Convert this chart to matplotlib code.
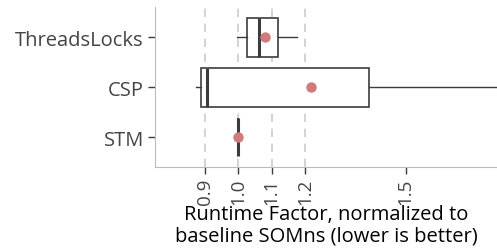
import matplotlib
matplotlib.use("Agg")
from matplotlib import pyplot as plt

# data
names = ["ThreadsLocks", "CSP", "STM"]
whislo = [0.998, 0.875, 1.0]
q1 = [1.028, 0.890, 1.0]
med = [1.061, 0.908, 1.0]
q3 = [1.119, 1.390, 1.0]
whishi = [1.177, 2.10, 1.0]
mean = [1.079, 1.218, 1.0]
xticks = [0.9, 1.0, 1.1, 1.2, 1.5]
grid_x = [0.9, 1.0, 1.1, 1.2]

plt.rcParams['font.family'] = ['Open Sans', 'DejaVu Sans']

stats = []
for i in range(len(names)):
	stats.append(dict(label=names[i], whislo=whislo[i], q1=q1[i], med=med[i],
		q3=q3[i], whishi=whishi[i], mean=mean[i], fliers=[]))

fig = plt.figure(figsize=(4.97, 2.53), dpi=100)
ax = fig.add_axes([0.312, 0.336, 0.688, 0.632])

for g in grid_x:
	ax.axvline(g, color='#cccccc', ls=(0, (5, 4)), lw=1.2, zorder=0)

dark = '#3c3c3c'
ax.bxp(stats, positions=range(len(names)), vert=False, widths=0.78,
	patch_artist=True, showmeans=True, showcaps=False,
	boxprops=dict(facecolor='white', edgecolor=dark, lw=1.2),
	whiskerprops=dict(color=dark, lw=1.0),
	medianprops=dict(color=dark, lw=2.2),
	meanprops=dict(marker='o', markerfacecolor='#d07b7b', markeredgecolor='#d07b7b', markersize=6.5))

ax.set_xlim(0.752, 1.773)
ax.set_ylim(2.6, -0.6)
ax.set_yticks(range(len(names)))
ax.set_yticklabels(names, fontsize=14.5, color='#444444')
ax.set_xticks(xticks)
ax.set_xticklabels([str(t) for t in xticks], rotation=90, fontsize=13.5, color='#444444')
ax.tick_params(axis='both', color=dark, length=5, width=1.0, pad=3)
for s in ['top', 'right']:
	ax.spines[s].set_visible(False)
for s in ['left', 'bottom']:
	ax.spines[s].set_color('#bbbbbb')
ax.set_xlabel('Runtime Factor, normalized to\nbaseline SOMns (lower is better)',
	fontsize=14.5, linespacing=1.05, labelpad=0)

fig.savefig('out.png', dpi=100)
